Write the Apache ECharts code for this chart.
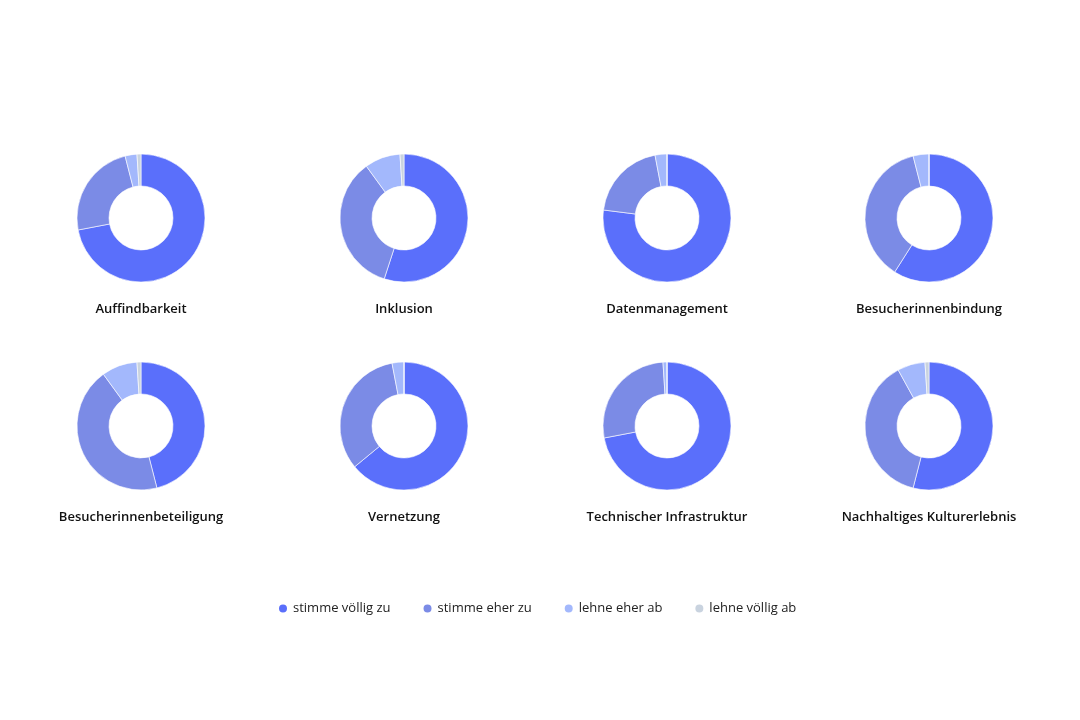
<!DOCTYPE html>
<html>
<head>
<meta charset="utf-8">
<script src="https://cdn.jsdelivr.net/npm/echarts@6/dist/echarts.min.js"></script>
<style>html,body{margin:0;padding:0;background:#fff}#c{width:1080px;height:720px}</style>
</head>
<body>
<div id="c"></div>
<script>
const topics = ["Auffindbarkeit","Inklusion","Datenmanagement","Besucherinnenbindung","Besucherinnenbeteiligung","Vernetzung","Technischer Infrastruktur","Nachhaltiges Kulturerlebnis"];
const answers = ["stimme völlig zu","stimme eher zu","lehne eher ab","lehne völlig ab"];
const stimmeVoellig = [72, 55, 77, 59, 46, 64, 72, 54];
const stimmeEher    = [24, 35, 20, 37, 44, 33, 27, 38];
const lehneEher     = [3, 9, 3, 4, 9, 3, 1, 7];
const lehneVoellig  = [1, 1, 0, 0, 1, 0, 0, 1];
const colors = ["#5a6ffb","#7b8be6","#a3b8fc","#c9d3df"];

const chart = echarts.init(document.getElementById('c'));
const cx = [141, 404, 667, 929];
const cy = [218, 426];
const series = [], titles = [];
topics.forEach((t, i) => {
  const x = cx[i % 4], y = cy[Math.floor(i / 4)];
  const vals = [stimmeVoellig[i], stimmeEher[i], lehneEher[i], lehneVoellig[i]];
  series.push({
    type: 'pie',
    center: [x, y],
    radius: [32, 64],
    startAngle: 90,
    silent: true,
    label: {show: false},
    labelLine: {show: false},
    itemStyle: {borderColor: '#fff', borderWidth: 0.6},
    data: answers.map((a, k) => ({name: a, value: vals[k]}))
  });
  titles.push({
    text: t,
    left: x, top: y + 85,
    padding: 0,
    textAlign: 'center',
    textStyle: {fontFamily: 'Open Sans', fontSize: 13, fontWeight: 600, color: '#111'}
  });
});

chart.setOption({
  animation: false,
  color: colors,
  title: titles,
  legend: {
    data: answers,
    top: 597,
    left: 272,
    icon: 'circle',
    itemWidth: 10,
    itemHeight: 10,
    itemGap: 31,
    textStyle: {fontFamily: 'Open Sans', fontSize: 13, color: '#222'}
  },
  series: series
});
</script>
</body>
</html>
